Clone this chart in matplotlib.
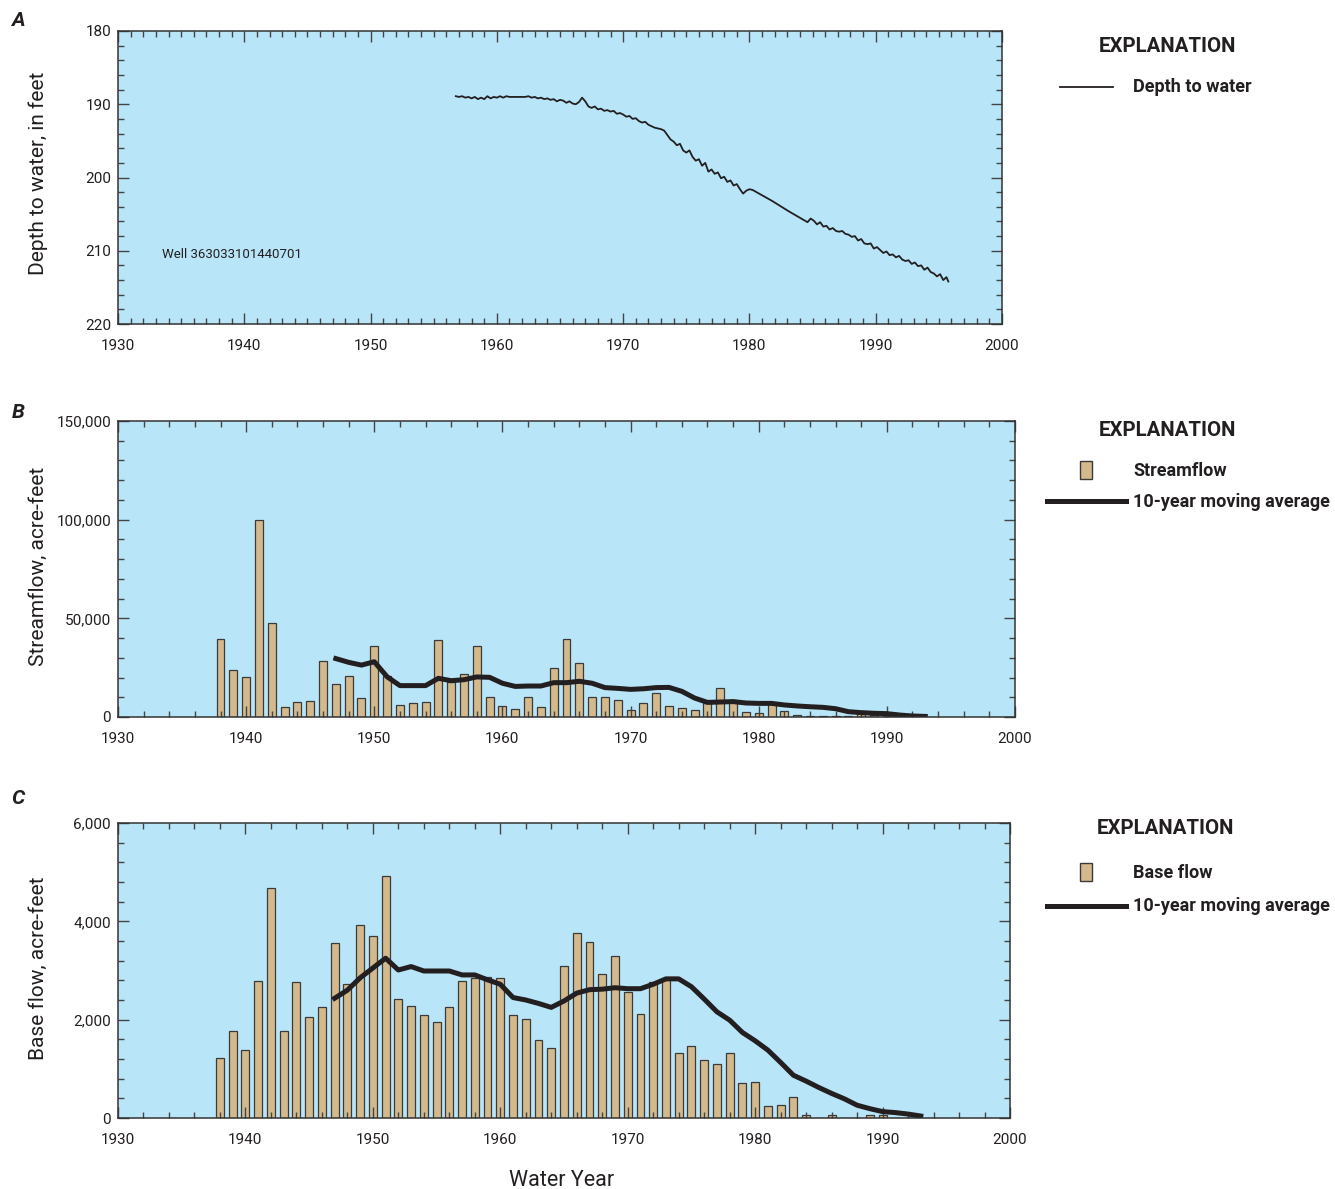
import numpy as np
import matplotlib
matplotlib.use('Agg')
import matplotlib.pyplot as plt
from matplotlib.lines import Line2D
from matplotlib.patches import Rectangle
from matplotlib.ticker import MultipleLocator, FuncFormatter

plt.rcParams['font.family'] = ['Roboto', 'DejaVu Sans']

BG = '#B9E5F9'
TAN = '#D3B98C'
INK = '#231F20'

# ---------- data ----------
well_year = [1956.75, 1957.0, 1957.25, 1957.5, 1957.75, 1958.0, 1958.25, 1958.5, 1958.75, 1959.0,
             1959.25, 1959.5, 1959.75, 1960.0, 1960.25, 1960.5, 1960.75, 1961.0, 1961.25, 1961.5,
             1961.75, 1962.0, 1962.25, 1962.5, 1962.75, 1963.0, 1963.25, 1963.5, 1963.75, 1964.0,
             1964.25, 1964.5, 1964.75, 1965.0, 1965.25, 1965.5, 1965.75, 1966.0, 1966.25, 1966.5,
             1966.75, 1967.0, 1967.25, 1967.5, 1967.75, 1968.0, 1968.25, 1968.5, 1968.75, 1969.0,
             1969.25, 1969.5, 1969.75, 1970.0, 1970.25, 1970.5, 1970.75, 1971.0, 1971.25, 1971.5,
             1971.75, 1972.0, 1972.25, 1972.5, 1972.75, 1973.0, 1973.25, 1973.5, 1973.75, 1974.0,
             1974.25, 1974.5, 1974.75, 1975.0, 1975.25, 1975.5, 1975.75, 1976.0, 1976.25, 1976.5,
             1976.75, 1977.0, 1977.25, 1977.5, 1977.75, 1978.0, 1978.25, 1978.5, 1978.75, 1979.0,
             1979.25, 1979.5, 1979.75, 1980.0, 1980.25, 1981.8, 1983.1, 1984.6, 1984.85, 1985.1,
             1985.35, 1985.6, 1985.85, 1986.1, 1986.35, 1986.6, 1986.85, 1987.1, 1987.35, 1987.6,
             1987.85, 1988.1, 1988.35, 1988.6, 1988.85, 1989.1, 1989.35, 1989.6, 1989.85, 1990.1,
             1990.35, 1990.6, 1990.85, 1991.1, 1991.35, 1991.6, 1991.85, 1992.1, 1992.35, 1992.6,
             1992.85, 1993.1, 1993.35, 1993.6, 1993.85, 1994.1, 1994.35, 1994.6, 1994.85, 1995.1,
             1995.35, 1995.6, 1995.75]
well_depth = [188.9, 189.0, 188.9, 189.1, 189.0, 189.2, 189.0, 189.3, 189.1, 189.3,
              188.9, 189.2, 189.0, 189.1, 188.9, 189.1, 188.9, 189.0, 189.0, 189.0,
              189.0, 189.0, 189.0, 188.9, 189.1, 189.0, 189.2, 189.1, 189.3, 189.2,
              189.4, 189.3, 189.6, 189.4, 189.5, 189.8, 189.6, 189.9, 190.0, 189.7,
              189.1, 189.6, 190.3, 190.5, 190.3, 190.7, 190.6, 190.9, 190.8, 191.0,
              190.9, 191.3, 191.2, 191.4, 191.7, 191.6, 192.0, 191.9, 192.3, 192.5,
              192.4, 192.8, 193.0, 193.2, 193.3, 193.4, 193.6, 194.2, 194.8, 195.1,
              195.6, 195.4, 196.3, 196.6, 196.3, 197.2, 197.7, 197.5, 198.4, 198.0,
              199.2, 198.9, 199.5, 199.3, 200.1, 199.9, 200.6, 200.4, 201.1, 200.9,
              201.6, 202.2, 201.8, 201.6, 201.7, 203.2, 204.6, 206.1, 205.6, 205.9,
              206.4, 206.1, 206.7, 206.6, 207.1, 206.9, 207.3, 207.4, 207.3, 207.7,
              207.8, 208.1, 208.0, 208.6, 208.4, 209.0, 209.1, 209.0, 209.7, 209.5,
              209.9, 210.3, 210.1, 210.6, 210.5, 210.9, 210.7, 211.2, 211.4, 211.3,
              211.8, 211.6, 212.1, 212.0, 212.6, 212.3, 212.9, 213.1, 213.5, 213.2,
              214.0, 213.6, 214.2]

flow_years = list(range(1938, 1991))
streamflow = [39700, 23700, 20400, 99800, 47500, 4900, 7400, 7900, 28200, 16700,
              20800, 9400, 35800, 20800, 6300, 7100, 7800, 38900, 17900, 22000,
              35800, 10100, 5700, 3900, 10000, 4900, 25000, 39400, 27200, 10000,
              10000, 8400, 3400, 7300, 12200, 5400, 4700, 3400, 6900, 14500,
              8600, 2400, 2000, 6900, 3200, 800, 400, 400, 400, 300,
              2900, 1000, 500]

base_years = list(range(1938, 1992))
base_flow = [1230, 1770, 1380, 2790, 4670, 1760, 2760, 2050, 2250, 3560,
             2730, 3920, 3710, 4920, 2430, 2270, 2090, 1950, 2260, 2780,
             2840, 2870, 2850, 2100, 2010, 1580, 1430, 3090, 3760, 3570,
             2930, 3290, 2560, 2110, 2760, 2830, 1330, 1460, 1170, 1090,
             1330, 720, 740, 250, 270, 420, 70, 10, 70, 5,
             5, 70, 70, 0]

ma_years = list(range(1947, 1994))
stream_ma = [29600, 27700, 26300, 28000, 20400, 15900, 15900, 15900, 19600, 18400,
             18900, 20300, 20100, 17100, 15500, 15700, 15700, 17400, 17400, 18100,
             17100, 14900, 14500, 14000, 14300, 14900, 15000, 13000, 9600, 7400,
             7600, 7800, 7100, 6900, 6900, 6100, 5600, 5200, 4900, 4200,
             2700, 2200, 1900, 1700, 1000, 500, 300]
base_ma = [2435, 2600, 2850, 3050, 3250, 3010, 3080, 2990, 2990, 2990,
           2910, 2910, 2810, 2720, 2450, 2400, 2330, 2250, 2380, 2540,
           2610, 2620, 2650, 2630, 2630, 2720, 2830, 2830, 2670, 2420,
           2160, 1990, 1740, 1570, 1380, 1130, 870, 750, 620, 500,
           390, 260, 190, 130, 110, 80, 40]

W, H = 1335, 1189
fig = plt.figure(figsize=(W / 100, H / 100), dpi=100)


def px_axes(l, t, r, b):
    return fig.add_axes([l / W, 1 - b / H, (r - l) / W, (b - t) / H])


def style(ax, xminor, ymajor, yminor):
    ax.set_facecolor(BG)
    ax.set_xlim(1930, 2000)
    ax.xaxis.set_major_locator(MultipleLocator(10))
    ax.xaxis.set_minor_locator(MultipleLocator(xminor))
    ax.yaxis.set_major_locator(MultipleLocator(ymajor))
    ax.yaxis.set_minor_locator(MultipleLocator(yminor))
    ax.tick_params(which='both', direction='in', top=True, right=True,
                   colors='#444444', labelcolor=INK, labelsize=11, width=1.0)
    ax.tick_params(which='major', length=8)
    ax.tick_params(which='minor', length=4)
    ax.tick_params(axis='x', pad=11)
    ax.tick_params(axis='y', pad=5)
    for s in ax.spines.values():
        s.set_color('#333333')
        s.set_linewidth(1.1)


def text_px(x, y, s, **kw):
    fig.text(x / W, 1 - y / H, s, color=INK, va='center', **kw)


def legend_text(x, y, s, size=13, **kw):
    text_px(x, y, s, fontsize=size, fontweight='bold', **kw)


def legend_line(x0, x1, y, lw):
    fig.add_artist(Line2D([x0 / W, x1 / W], [1 - y / H, 1 - y / H], color=INK, lw=lw,
                          transform=fig.transFigure))


def legend_rect(xc, yc):
    fig.add_artist(Rectangle(((xc - 6) / W, 1 - (yc + 9) / H), 12 / W, 18 / H,
                             facecolor=TAN, edgecolor='#3a3a3a', lw=1.0,
                             transform=fig.transFigure))


comma = FuncFormatter(lambda v, p: f'{int(v):,}')
YLAB = 15

# ---------- A: depth to water ----------
axA = px_axes(118, 31, 1002, 324)
axA.plot(well_year, well_depth, color=INK, lw=1.3)
axA.set_ylim(220, 180)
style(axA, 1, 10, 2)
text_px(38, 173, 'Depth to water, in feet', fontsize=YLAB, rotation=90, ha='center')
axA.text(1933.5, 210.5, 'Well 363033101440701', fontsize=9.5, color=INK, va='center')
text_px(18, 20, 'A', fontsize=15, fontweight='bold', fontstyle='italic', ha='center')
legend_text(1168, 47, 'EXPLANATION', size=14.7, ha='center')
legend_line(1060, 1113, 87, 1.3)
legend_text(1133, 87, 'Depth to water')

# ---------- B: streamflow ----------
axB = px_axes(118, 421, 1015, 717)
axB.bar(flow_years, streamflow, width=0.62, color=TAN, edgecolor='#3a3a3a', lw=0.9)
axB.plot(ma_years, stream_ma, color=INK, lw=3.6, solid_joinstyle='round')
axB.set_ylim(0, 150000)
style(axB, 2, 50000, 10000)
axB.yaxis.set_major_formatter(comma)
text_px(38, 566, 'Streamflow, acre-feet', fontsize=YLAB, rotation=90, ha='center')
text_px(18, 412, 'B', fontsize=15, fontweight='bold', fontstyle='italic', ha='center')
legend_text(1168, 430, 'EXPLANATION', size=14.7, ha='center')
legend_rect(1086, 470)
legend_text(1133, 471, 'Streamflow')
legend_line(1047, 1126, 501, 3.6)
legend_text(1133, 502, '10-year moving average')

# ---------- C: base flow ----------
axC = px_axes(118, 823, 1010, 1118)
axC.bar(base_years, base_flow, width=0.62, color=TAN, edgecolor='#3a3a3a', lw=0.9)
axC.plot(ma_years, base_ma, color=INK, lw=3.6, solid_joinstyle='round')
axC.set_ylim(0, 6000)
style(axC, 2, 2000, 400)
axC.yaxis.set_major_formatter(comma)
text_px(38, 968, 'Base flow, acre-feet', fontsize=YLAB, rotation=90, ha='center')
text_px(562, 1180, 'Water Year', fontsize=15.5, ha='center')
text_px(18, 798, 'C', fontsize=15, fontweight='bold', fontstyle='italic', ha='center')
legend_text(1166, 829, 'EXPLANATION', size=14.7, ha='center')
legend_rect(1086, 872)
legend_text(1133, 873, 'Base flow')
legend_line(1047, 1126, 906, 3.6)
legend_text(1133, 906, '10-year moving average')

fig.savefig('out.png', dpi=100)
